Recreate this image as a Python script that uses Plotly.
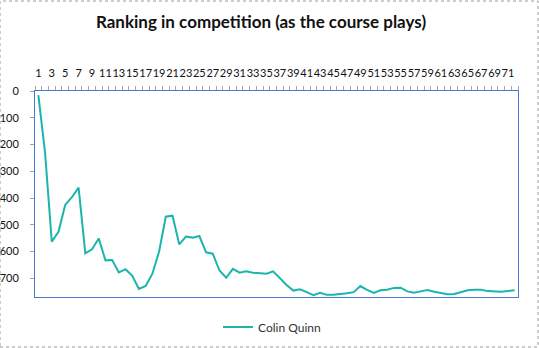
import plotly.graph_objects as go

holes = list(range(1, 73))
ranking = [15, 230, 563, 526, 426, 397, 361, 607, 592, 551,
           633, 632, 678, 666, 691, 740, 729, 683, 600, 470,
           466, 573, 544, 548, 542, 603, 608, 671, 698, 665,
           679, 674, 679, 680, 683, 674, 700, 725, 746, 741,
           752, 763, 754, 762, 762, 760, 756, 752, 729, 743,
           755, 745, 743, 736, 735, 749, 754, 749, 744, 750,
           756, 760, 759, 751, 745, 743, 743, 748, 750, 750,
           748, 745]
tick_labels = [str(h) for h in holes if h % 2 == 1]
tick_positions = [h for h in holes if h % 2 == 1]
y_ticks = [0, 100, 200, 300, 400, 500, 600, 700]

FONT = "Lato"
fig = go.Figure()
fig.add_trace(go.Scatter(
    x=holes, y=ranking, mode="lines", name="Colin Quinn",
    line=dict(color="#1AB5AC", width=2),
))

fig.update_layout(
    width=539, height=348,
    margin=dict(l=35, r=21, t=91, b=51, autoexpand=False),
    paper_bgcolor="white", plot_bgcolor="white",
    font=dict(family=FONT, size=11, color="#222"),
    title=dict(text="<b>Ranking in competition (as the course plays)</b>",
               x=261/539, xanchor="center", xref="container", y=1 - 22/348, yanchor="middle",
               yref="container", font=dict(family=FONT, size=17, color="#111")),
    showlegend=True,
    legend=dict(orientation="h", x=(272 - 35)/483, xanchor="center", xref="paper",
                yref="container", y=1 - 327/348, yanchor="middle",
                font=dict(family=FONT, size=12, color="#333")),
    xaxis=dict(side="top", range=[0.5, 72.5], tickmode="array",
               tickvals=tick_positions, ticktext=tick_labels, tickangle=0,
               ticks="outside", ticklen=0.01, tickcolor="rgba(0,0,0,0)",
               ticklabelstandoff=9, automargin=False,
               showgrid=False, zeroline=False,
               showline=True, linecolor="#4A78D0", linewidth=1, mirror=True,
               tickfont=dict(family=FONT, size=11, color="#111"),
               minor=dict(tickmode="linear", tick0=0.5, dtick=1, ticks="outside",
                          ticklen=4, tickcolor="#A8A8A8", tickwidth=1, showgrid=False)),
    yaxis=dict(range=[770, 0], tickmode="array", tickvals=y_ticks,
               ticks="outside", ticklen=4, tickcolor="#A0A0A0",
               ticklabelstandoff=9, automargin=False,
               showgrid=False, zeroline=False,
               showline=True, linecolor="#4A78D0", linewidth=1, mirror=True,
               tickfont=dict(family=FONT, size=11, color="#111")),
    shapes=[dict(type="rect", xref="paper", yref="paper",
                 x0=-35/483, x1=1 + 20/483, y0=-50/206, y1=1 + 90/206,
                 line=dict(color="#9A9A9A", width=1, dash="dot"))],
)

fig.write_html("out.html")
